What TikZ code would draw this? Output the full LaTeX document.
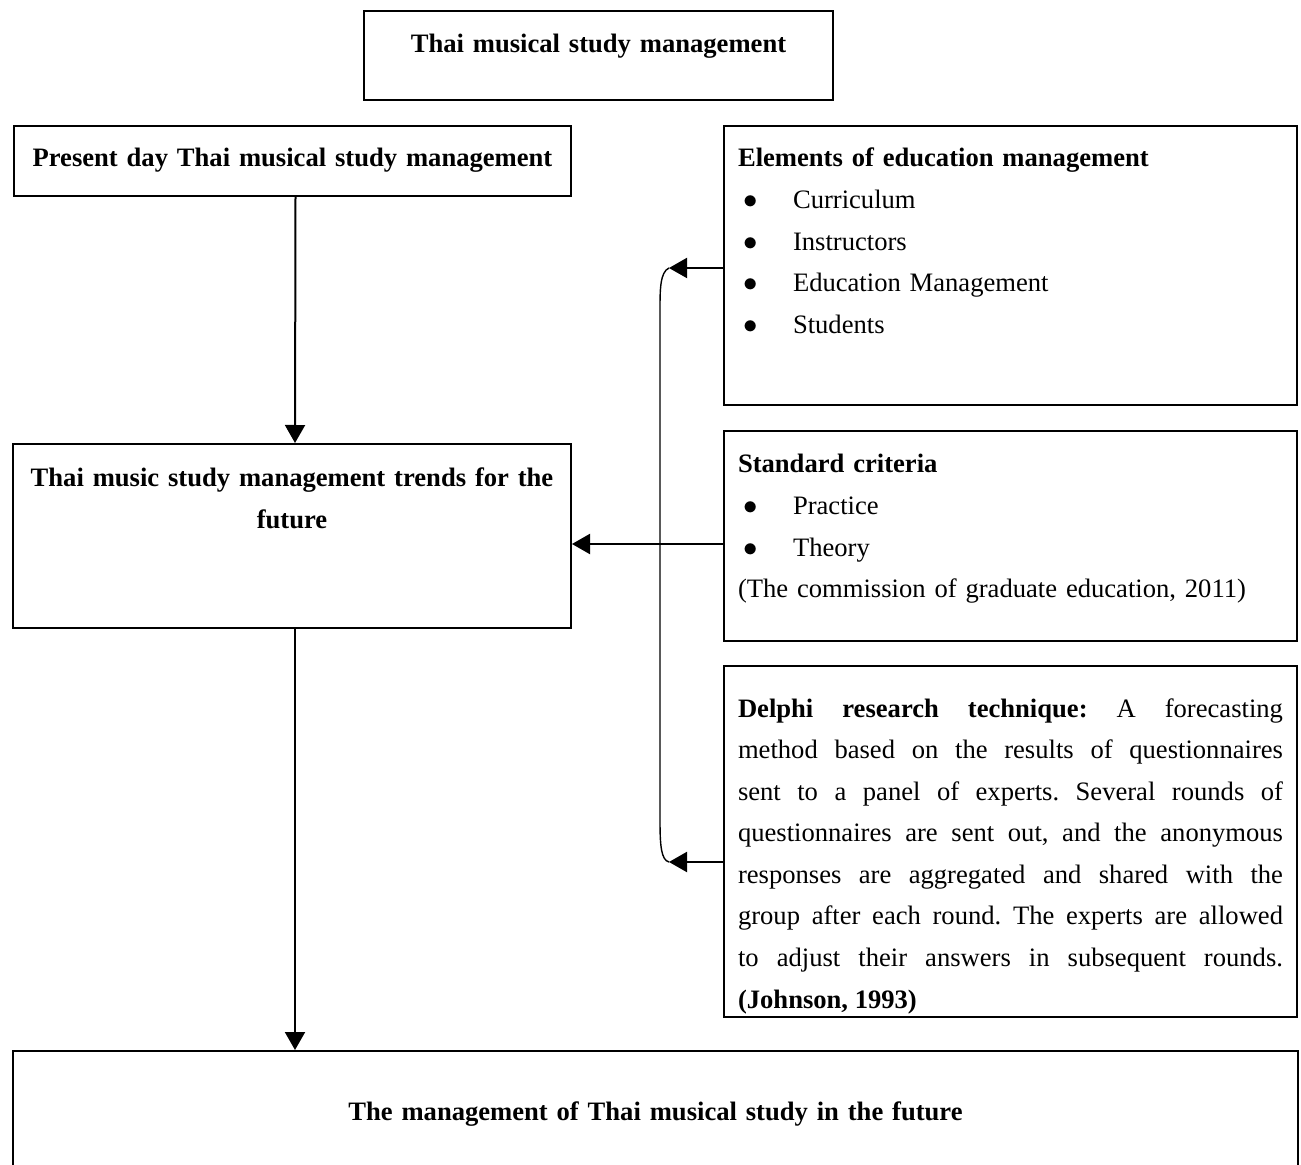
\documentclass[tikz,border=0pt]{standalone}
\usepackage{fontspec}
\setmainfont{Liberation Serif}
\usetikzlibrary{arrows.meta}

\newcommand{\bul}{\makebox[27.5pt][l]{\hspace{2.5pt}$\bullet$}}

\begin{document}
\begin{tikzpicture}[x=0.5pt, y=-0.5pt]
\tikzstyle{BoxStyle}=[draw, line width=1pt, anchor=north west,
                      inner xsep=7pt, inner ysep=0pt,
                      font=\fontsize{13.3}{20.8}\selectfont\frenchspacing]
\tikzstyle{ArrowStyle}=[line width=1pt, -{Triangle[length=9pt,width=10pt]}]
\useasboundingbox (0,0) rectangle (1301,1165);
\node[BoxStyle, text width=220.5pt, align=center, text height=21pt, text depth=23.5pt] (title) at (363,10) {\textbf{Thai musical study management}};
\node[BoxStyle, text width=264.5pt, align=center, text height=20.5pt, text depth=14.5pt] (pres) at (13,125) {\textbf{Present day Thai musical study management}};
\node[BoxStyle, inner xsep=2pt, text width=275pt, align=center, text height=21.5pt, text depth=70.5pt] (trend) at (12,443) {\textbf{Thai music study management trends for the}\\ \textbf{future}};
\node[BoxStyle, text width=628.5pt, align=center, text height=34.5pt, text depth=100pt] (futr) at (12,1050) {\textbf{The management of Thai musical study in the future}};
\node[BoxStyle, text width=272.5pt, align=left, text height=20.5pt, text depth=119pt] (elem) at (723,125) {\textbf{Elements of education management}\\ \bul Curriculum\\ \bul Instructors\\ \bul Education Management\\ \bul Students};
\node[BoxStyle, text width=272.5pt, align=left, text height=21pt, text depth=84pt] (crit) at (723,430) {\textbf{Standard criteria}\\ \bul Practice\\ \bul Theory\\ (The commission of graduate education, 2011)};
\node[BoxStyle, text width=272.5pt, align=justify, text height=25.5pt, text depth=150pt] (delphi) at (723,665) {\hyphenpenalty=10000 \tolerance=10000
\textbf{Delphi research technique:} A forecasting\linebreak method based on the results of questionnaires\linebreak sent to a panel of experts. Several rounds of\linebreak questionnaires are sent out, and the anonymous\linebreak responses are aggregated and shared with the\linebreak group after each round. The experts are allowed\linebreak to adjust their answers in subsequent rounds.\linebreak \textbf{(Johnson, 1993)}};
\coordinate (brtop) at (669,268);
\coordinate (brbot) at (669,862);
\draw[ArrowStyle] ([xshift=1.5pt]pres.south) -- ([xshift=1.5pt]trend.north);
\draw[ArrowStyle] ([xshift=1.5pt]trend.south) -- ([xshift=1.5pt]trend.south |- futr.north);
\draw[ArrowStyle] ([yshift=-4pt]crit.west) -- ([yshift=-4pt]trend.east);
\draw[ArrowStyle] (elem.west |- brtop) -- (brtop);
\draw[ArrowStyle] (delphi.west |- brbot) -- (brbot);
\draw[line width=0.7pt] (brtop) .. controls (660,272) and (660,290) .. (660,310) -- (660,820) .. controls (660,845) and (661,860) .. (brbot);
\end{tikzpicture}
\end{document}
